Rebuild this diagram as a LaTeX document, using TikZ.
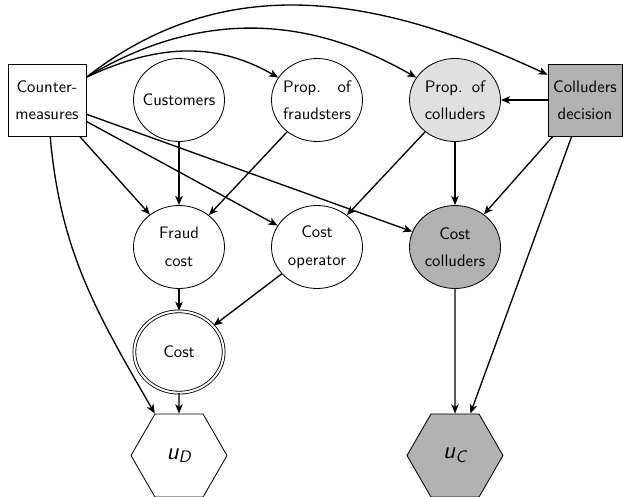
\documentclass[tikz,border=0pt]{standalone}
\usetikzlibrary{shapes.geometric,arrows.meta}
\newlength\lnwd
\newcommand\jline[2]{\settowidth\lnwd{#2}\makebox[\lnwd][s]{#1}\\[4.5pt]#2}
\definecolor{lightfill}{gray}{0.88}
\definecolor{darkfill}{gray}{0.70}
\begin{document}
\begin{tikzpicture}[x=0.6pt,y=0.6pt,
  every node/.style={font=\sffamily, align=center},
  chance/.style={ellipse, draw, line width=0.5pt, minimum width=54.6pt, minimum height=49.8pt, inner xsep=-4pt, inner ysep=0pt},
  decision/.style={rectangle, draw, line width=0.5pt, minimum height=43.2pt, inner sep=0pt},
  utility/.style={regular polygon, regular polygon sides=6, draw, line width=0.5pt, minimum size=57.6pt, inner sep=0pt, font=\Large\sffamily\itshape},
  arr/.style={-{Stealth[length=5.5pt,width=4.5pt,inset=1.5pt]}, line width=0.8pt}]
\useasboundingbox (0,0) rectangle (623,-497);
\node[decision, minimum width=46.8pt] (cm) at (47,-100) {Counter-\\[4.5pt]measures};
\node[chance] (cust) at (179,-100) {Customers};
\node[chance] (fraud) at (317,-100) {\jline{Prop. of}{fraudsters}};
\node[chance, fill=lightfill] (pcoll) at (455,-100) {\jline{Prop. of}{colluders}};
\node[decision, minimum width=44.4pt, fill=darkfill] (cd) at (585,-100) {Colluders\\[4.5pt]decision};
\node[chance] (fc) at (179,-247) {Fraud\\[4.5pt]cost};
\node[chance] (cop) at (317,-247) {Cost\\[4.5pt]operator};
\node[chance, fill=darkfill] (ccoll) at (455,-247) {Cost\\[4.5pt]colluders};
\node[chance, double, double distance=1.2pt, minimum width=53.6pt, minimum height=48.8pt] (cost) at (179,-352) {Cost};
\node[utility] (ud) at (179,-455.5) {u\textsubscript{D}};
\node[utility, fill=darkfill] (uc) at (455,-455.5) {u\textsubscript{C}};
% curved edges from countermeasures
\draw[arr] (cm.30) to[out=25,in=150] (fraud);
\draw[arr] (cm.30) to[out=31,in=150] (pcoll);
\draw[arr] (cm.30) to[out=38,in=155] (cd.146);
\draw[arr] (cm.-85) to[out=-85,in=120] (ud.120);
% straight edges
\draw[arr] (cm) -- (fc);
\draw[arr] (cm) -- (cop);
\draw[arr] (cm) -- (ccoll);
\draw[arr] (cust) -- (fc);
\draw[arr] (fraud) -- (fc);
\draw[arr] (cd) -- (pcoll);
\draw[arr] (pcoll) -- (cop);
\draw[arr] (pcoll) -- (ccoll);
\draw[arr] (cd) -- (ccoll);
\draw[arr] (cd) -- (uc);
\draw[arr] (ccoll) -- (uc);
\draw[arr] (fc) -- (cost);
\draw[arr] (cop) -- (cost);
\draw[arr] (cost) -- (ud);
\end{tikzpicture}
\end{document}
